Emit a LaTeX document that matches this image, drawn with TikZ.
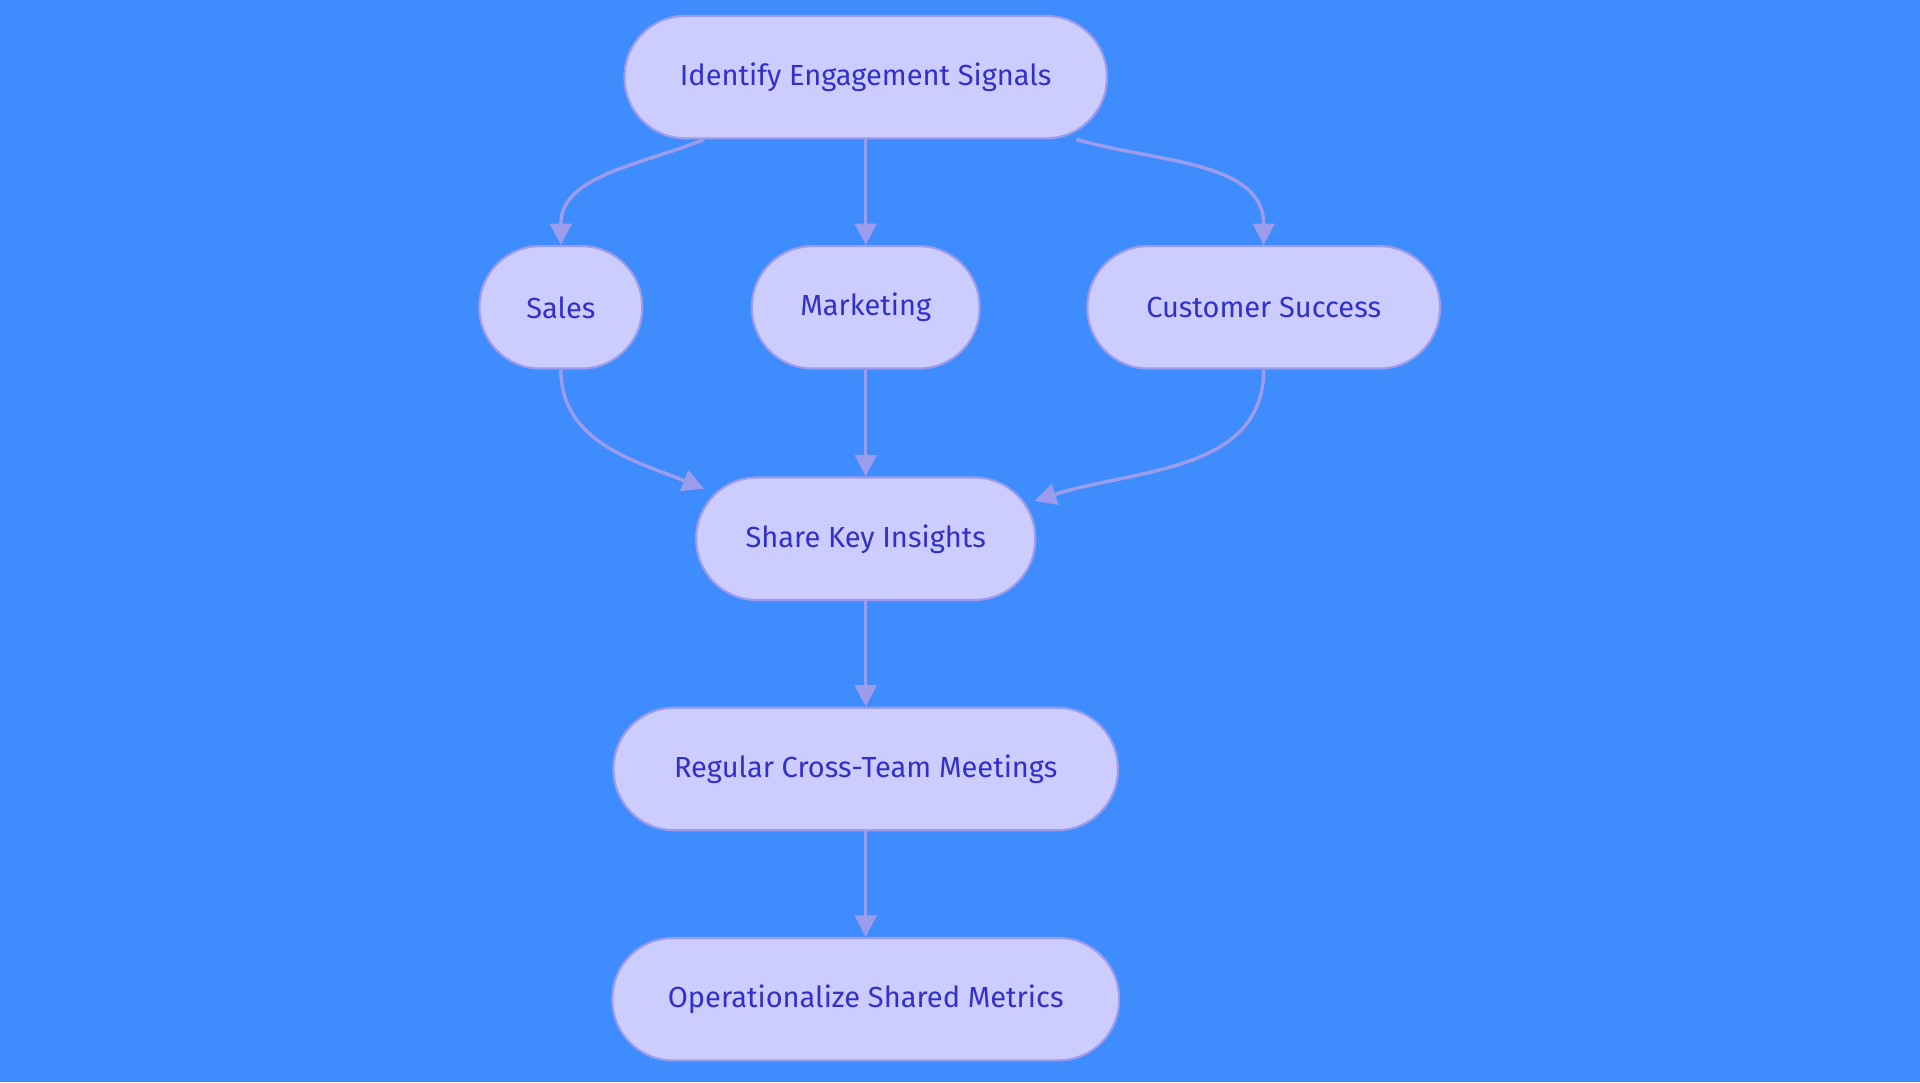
\documentclass[tikz,border=0pt]{standalone}
\usepackage{fontspec}
\setmainfont{Fira Sans}
\usetikzlibrary{arrows.meta}
\definecolor{bgblue}{HTML}{3F8CFF}
\definecolor{boxfill}{HTML}{CCCCFF}
\definecolor{boxline}{HTML}{9C9CEC}
\definecolor{boxtext}{HTML}{3131C8}
\tikzset{
	stage/.style={draw=boxline, line width=1pt, fill=boxfill, text=boxtext,
		rounded corners=0.99cm, minimum height=2cm, inner sep=0pt,
		font=\fontsize{13.5}{16}\selectfont},
	flow/.style={draw=boxline, line width=1.6pt, -{Triangle[length=10pt,width=10pt]}}
}
\begin{document}
\begin{tikzpicture}[x=0.02cm,y=-0.02cm]
	\fill[bgblue] (0,0) rectangle (1568,884);
	\useasboundingbox (0,0) rectangle (1568,884);
	
	\node[stage, minimum width=7.88cm] (signals) at (707,63) {Identify Engagement Signals};
	\node[stage, minimum width=2.66cm] (sales) at (458,251) {Sales};
	\node[stage, minimum width=3.72cm] (marketing) at (707,251) {Marketing};
	\node[stage, minimum width=5.76cm] (success) at (1032,251) {Customer Success};
	\node[stage, minimum width=5.54cm] (insights) at (707,440) {Share Key Insights};
	\node[stage, minimum width=8.24cm] (meetings) at (707,628) {Regular Cross-Team Meetings};
	\node[stage, minimum width=8.28cm] (metrics) at (707,816) {Operationalize Shared Metrics};
	
	\draw[flow] ([xshift=-2.64cm]signals.south) to[out=-158,in=90] (sales.north);
	\draw[flow] (signals) -- (marketing);
	\draw[flow] ([xshift=3.44cm]signals.south) to[out=-16,in=90] (success.north);
	\draw[flow] (sales.south) to[out=-90,in=158] ([xshift=-2.64cm,yshift=-0.2cm]insights.north);
	\draw[flow] (marketing) -- (insights);
	\draw[flow] (success.south) to[out=-90,in=18] ([xshift=2.76cm,yshift=-0.4cm]insights.north);
	\draw[flow] (insights) -- (meetings);
	\draw[flow] (meetings) -- (metrics);
\end{tikzpicture}
\end{document}
